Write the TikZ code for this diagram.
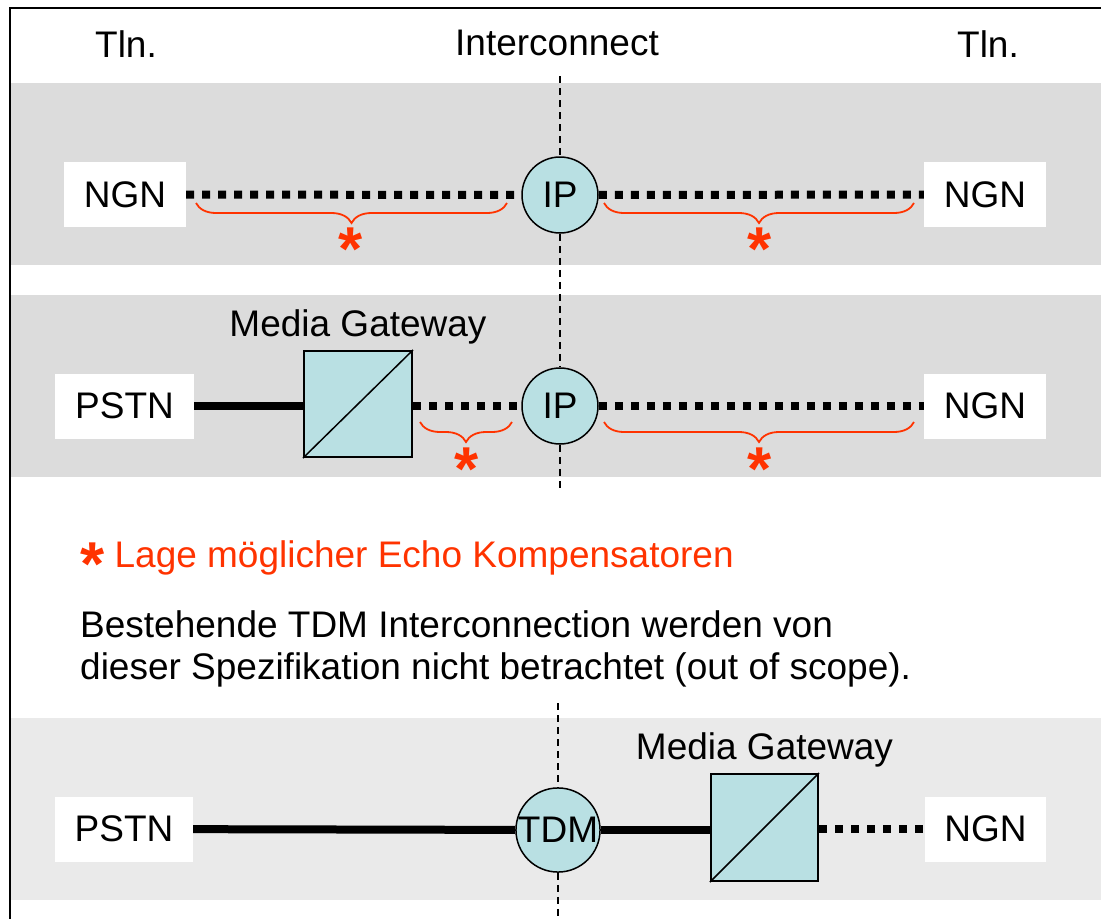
\documentclass[tikz,border=0pt]{standalone}
\usepackage{fontspec}
\setmainfont{Liberation Sans}
\usetikzlibrary{positioning, decorations.pathreplacing}
\definecolor{bandgray}{RGB}{220,220,220}
\definecolor{bandlight}{RGB}{234,234,234}
\definecolor{gwblue}{RGB}{185,224,227}
\definecolor{echored}{RGB}{255,51,0}
\tikzstyle{caption} = [inner sep=0pt]
\tikzstyle{endpoint} = [rectangle, fill=white, minimum height=65pt, inner sep=0pt, text centered]
\tikzstyle{ic} = [circle, draw=black, line width=1.5pt, fill=gwblue, minimum size=76pt, inner sep=0pt]
\tikzstyle{gateway} = [rectangle, draw=black, line width=2pt, fill=gwblue, minimum width=108pt, minimum height=106pt, inner sep=0pt]
\tikzstyle{tdmline} = [line width=8pt]
\tikzstyle{ipline} = [line width=8pt, dash pattern=on 8pt off 8pt]
\tikzstyle{icline} = [line width=1.3pt, dash pattern=on 7pt off 5pt]
\tikzstyle{echobrace} = [draw=echored, line width=1.8pt, decorate, decoration={brace, amplitude=20pt}]
\tikzstyle{echomark} = [text=echored, inner sep=0pt, anchor=base, font=\fontsize{62}{62}\selectfont\bfseries]
\begin{document}
\begin{tikzpicture}[x=1pt, y=1pt, font=\fontsize{37}{42}\selectfont]
\useasboundingbox (0,0) rectangle (1101,-919);
% frame and bands
\draw[line width=2.2pt] (1101,-8) -| (10,-919);
\fill[bandgray] (11,-83) rectangle (1101,-265);
\fill[bandgray] (11,-295) rectangle (1101,-477);
\fill[bandlight] (11,-718) rectangle (1101,-900);

\node (tln1) [caption, anchor=base] at (126,-57) {Tln.};
\node (icon) [caption, anchor=base] at (557,-55) {Interconnect};
\node (tln2) [caption, anchor=base] at (988,-57) {Tln.};

% NGN - IP - NGN
\node (ngn1) [endpoint, minimum width=122pt] at (125,-194.5) {NGN};
\node (ip1) [ic] at (560,-195) {IP};
\node (ngn2) [endpoint, minimum width=122pt] at (985,-194.5) {NGN};

% PSTN - MG - IP - NGN
\node (pstn2) [endpoint, minimum width=139pt] at (124.5,-406) {PSTN};
\node (mg2) [gateway] at (358,-404) {};
\node (mglabel2) [caption, above=6pt of mg2] {Media Gateway};
\node (ip2) [ic] at (560,-406) {IP};
\node (ngn3) [endpoint, minimum width=122pt] at (985,-406) {NGN};

% PSTN - TDM - MG - NGN
\node (pstn3) [endpoint, minimum width=138pt] at (124,-829) {PSTN};
\node (tdm) [ic] at (558,-830) {TDM};
\node (mg3) [gateway, minimum width=107pt, minimum height=107pt] at (764.5,-827.5) {};
\node (mglabel3) [caption, above=6pt of mg3] {Media Gateway};
\node (ngn4) [endpoint, minimum width=121pt] at (985.5,-829) {NGN};

\coordinate (ictop) at (560,-76);
\coordinate (icmid) at (560,-488);
\coordinate (tdmtop) at (558,-703);
\coordinate (tdmbot) at (558,-919);
\draw[icline] (ictop) -- (ip1) -- (ip2) -- (icmid);
\draw[icline] (tdmtop) -- (tdm) -- (tdmbot);

\draw[ipline] (ngn1) -- (ip1);
\draw[ipline] (ip1) -- (ngn2);
\draw[tdmline] (pstn2) -- (mg2.west |- pstn2);
\draw[ipline] (mg2.east |- ip2) -- (ip2);
\draw[ipline] (ip2) -- (ngn3);
\draw[tdmline] (pstn3) -- (tdm);
\draw[tdmline] (tdm) -- (mg3.west |- tdm);
\draw[ipline] (mg3.east |- ngn4) -- (ngn4);
\draw[line width=1.5pt] (mg2.south west) -- (mg2.north east);
\draw[line width=1.5pt] (mg3.south west) -- (mg3.north east);

% echo braces
\draw[echobrace] (507,-203) -- (196,-203);
\draw[echobrace] (914,-203) -- (604,-203);
\draw[echobrace] (512,-422) -- (420,-422);
\draw[echobrace] (914,-422) -- (604,-422);
\node (echo1) [echomark] at (351,-270) {*};
\node (echo2) [echomark] at (760,-270) {*};
\node (echo3) [echomark] at (467,-490) {*};
\node (echo4) [echomark] at (760,-490) {*};

\node (legend) [caption, anchor=base west, text=echored] at (80,-567) {\raisebox{-18pt}{\fontsize{62}{62}\selectfont\bfseries*}\ Lage möglicher Echo Kompensatoren};
\node (scope) [caption, align=left, anchor=base west] at (80,-679) {Bestehende TDM Interconnection werden von\\dieser Spezifikation nicht betrachtet (out of scope).};
\end{tikzpicture}
\end{document}
